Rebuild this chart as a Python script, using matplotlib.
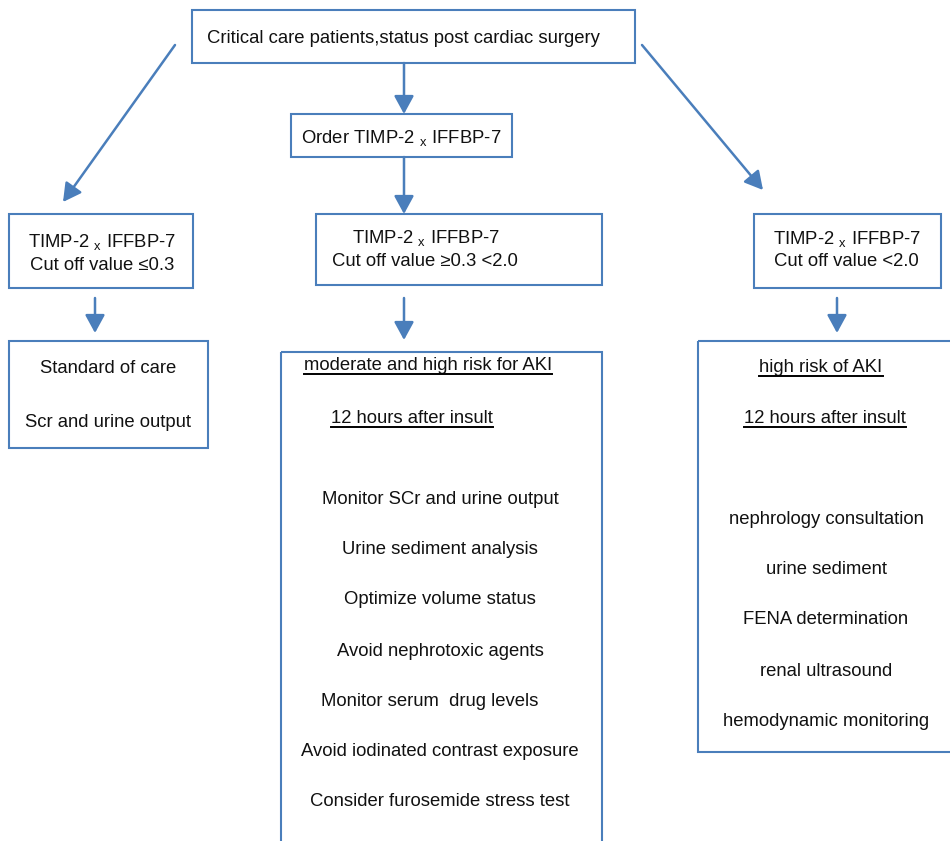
import matplotlib
matplotlib.use("Agg")
import matplotlib.pyplot as plt
from matplotlib.patches import Rectangle, FancyArrowPatch

plt.rcParams['font.family'] = ['Liberation Sans', 'DejaVu Sans']
plt.rcParams['mathtext.fontset'] = 'custom'
plt.rcParams['mathtext.rm'] = 'Liberation Sans'

BLUE = '#4a7ebb'
FS = 13.3

# ---- content ----
top_text = "Critical care patients,status post cardiac surgery"
order_text = r"Order TIMP-2 $_{\mathregular{x}}$ IFFBP-7"
marker_text = r"TIMP-2 $_{\mathregular{x}}$ IFFBP-7"
cutoff_left = "Cut off value \u22640.3"
cutoff_mid = "Cut off value \u22650.3 <2.0"
cutoff_right = "Cut off value <2.0"
left_items = ["Standard of care", "Scr and urine output"]
mid_headers = ["moderate and high risk for AKI", "12 hours after insult"]
mid_items = ["Monitor SCr and urine output", "Urine sediment analysis",
             "Optimize volume status", "Avoid nephrotoxic agents",
             "Monitor serum  drug levels", "Avoid iodinated contrast exposure",
             "Consider furosemide stress test"]
right_headers = ["high risk of AKI", "12 hours after insult"]
right_items = ["nephrology consultation", "urine sediment", "FENA determination",
               "renal ultrasound", "hemodynamic monitoring"]

W, H = 950, 841
fig = plt.figure(figsize=(W / 100, H / 100), dpi=100)
ax = fig.add_axes([0, 0, 1, 1])
ax.set_xlim(0, W)
ax.set_ylim(H, 0)
ax.axis('off')


def box(x0, y0, x1, y1):
    ax.add_patch(Rectangle((x0, y0), x1 - x0, y1 - y0, fill=False,
                           edgecolor=BLUE, linewidth=1.5, zorder=2))


def arrow(x0, y0, x1, y1):
    ax.add_patch(FancyArrowPatch((x0, y0), (x1, y1),
                                 arrowstyle='-|>,head_length=11,head_width=6',
                                 color=BLUE, linewidth=1.8,
                                 shrinkA=0, shrinkB=0, mutation_scale=1, zorder=3))


def txt(x, y, s, ha='center'):
    return ax.text(x, y + 2, s, ha=ha, va='center', fontsize=FS, color='#111111', zorder=4)


# boxes
box(192, 10, 635, 63)
box(291, 114, 512, 157)
box(9, 214, 193, 288)
box(316, 214, 602, 285)
box(754, 214, 941, 288)
box(9, 341, 208, 448)
box(281, 352, 602, 860)
box(698, 341, 960, 752)

# arrows
arrow(404, 63, 404, 114)
arrow(404, 157, 404, 214)
arrow(175, 45, 63, 202)
arrow(642, 45, 763, 190)
arrow(95, 298, 95, 333)
arrow(404, 298, 404, 340)
arrow(837, 298, 837, 333)

# text
txt(403, 36, top_text)
txt(401, 136, order_text)
txt(102, 240, marker_text)
txt(102, 263, cutoff_left)
txt(426, 236, marker_text)
txt(425, 259, cutoff_mid)
txt(847, 237, marker_text)
txt(846, 259, cutoff_right)

for s, y in zip(left_items, [366, 420]):
    txt(108, y, s)

underlined = []
for s, x, y in zip(mid_headers, [428, 412], [363, 416]):
    underlined.append(txt(x, y, s))
for s, x, y in zip(right_headers, [821, 825], [365, 416]):
    underlined.append(txt(x, y, s))

mid_y = [497, 548, 598, 649, 699, 750, 800]
mid_x = [440, 440, 440, 440, 430, 440, 440]
for s, x, y in zip(mid_items, mid_x, mid_y):
    txt(x, y, s)

right_y = [518, 568, 618, 669, 719]
for s, y in zip(right_items, right_y):
    txt(826, y, s)

# underlines from measured text extents
fig.canvas.draw()
r = fig.canvas.get_renderer()
inv = ax.transData.inverted()
for t in underlined:
    bb = t.get_window_extent(renderer=r)
    (xa, ya), (xb, yb) = inv.transform([(bb.x0, bb.y0), (bb.x1, bb.y1)])
    ybase = max(ya, yb)
    ax.plot([xa, xb], [ybase + 0.5, ybase + 0.5], color='black', linewidth=1.4, zorder=4)

fig.savefig('out.png', dpi=100)
